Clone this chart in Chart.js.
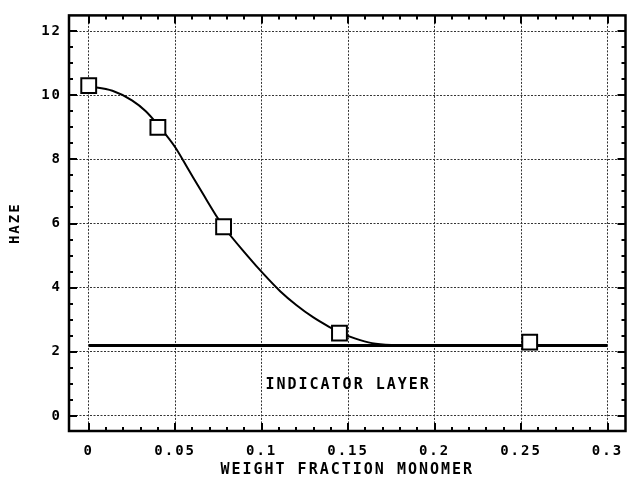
<!DOCTYPE html>
<html>
<head>
<meta charset="utf-8">
<script src="https://cdn.jsdelivr.net/npm/chart.js@4/dist/chart.umd.min.js"></script>
<style>
  html, body { margin: 0; padding: 0; background: #ffffff; }
  canvas { display: block; }
</style>
</head>
<body>
<canvas id="chart-haze" width="638" height="479"></canvas>
<script>
// ── Data ──
const markerX = [0, 0.04, 0.078, 0.145, 0.255];
const markerY = [10.3, 9.0, 5.9, 2.58, 2.3];

const curveX = [0, 0.0137, 0.025, 0.033, 0.0404, 0.05, 0.0575, 0.067, 0.0746, 0.078, 0.0917, 0.1012, 0.1107, 0.12, 0.1297, 0.139, 0.1454, 0.1543, 0.1638, 0.175, 0.185];
const curveY = [10.28, 10.14, 9.84, 9.5, 9.05, 8.38, 7.7, 6.84, 6.17, 5.9, 5.0, 4.42, 3.89, 3.46, 3.08, 2.78, 2.6, 2.41, 2.27, 2.21, 2.2];

const layerX = [0, 0.3];
const layerY = [2.2, 2.2];

const xTicks = [0, 0.05, 0.1, 0.15, 0.2, 0.25, 0.3];
const yTicks = [0, 2, 4, 6, 8, 10, 12];
const xMinorStep = 0.01;
const yMinorStep = 0.5;

const FONT = "'DejaVu Sans Mono', monospace";

const toPoints = (xs, ys) => xs.map((x, i) => ({ x, y: ys[i] }));

// frame, inner tick marks and the label inside the plot
const framePlugin = {
  id: "frame",
  beforeDraw(chart) {
    chart.ctx.letterSpacing = "2px";
  },
  afterDraw(chart) {
    const { ctx, chartArea: a, scales: { x, y } } = chart;
    ctx.save();
    ctx.strokeStyle = "#000";
    ctx.lineWidth = 2;
    ctx.beginPath();
    for (let v = 0; v <= 0.3001; v += xMinorStep) {
      const px = Math.round(x.getPixelForValue(v));
      const major = Math.abs(v / 0.05 - Math.round(v / 0.05)) < 1e-6;
      const len = major ? 8 : 4;
      ctx.moveTo(px, a.bottom); ctx.lineTo(px, a.bottom - len);
      ctx.moveTo(px, a.top); ctx.lineTo(px, a.top + len);
    }
    for (let v = 0; v <= 12.001; v += yMinorStep) {
      const py = Math.round(y.getPixelForValue(v));
      const major = Math.abs(v / 2 - Math.round(v / 2)) < 1e-6;
      const len = major ? 8 : 4;
      ctx.moveTo(a.left, py); ctx.lineTo(a.left + len, py);
      ctx.moveTo(a.right, py); ctx.lineTo(a.right - len, py);
    }
    ctx.stroke();

    ctx.lineWidth = 2.5;
    ctx.strokeRect(a.left, a.top, a.right - a.left, a.bottom - a.top);

    ctx.fillStyle = "#000";
    ctx.font = "bold 15px " + FONT;
    ctx.textAlign = "center";
    ctx.textBaseline = "middle";
    ctx.fillText("INDICATOR LAYER", x.getPixelForValue(0.15), y.getPixelForValue(0.96));
    ctx.restore();
  }
};

new Chart(document.getElementById("chart-haze").getContext("2d"), {
  type: "scatter",
  data: {
    datasets: [
      {
        label: "Measured",
        data: toPoints(markerX, markerY),
        pointStyle: "rect",
        pointRadius: 10.5,
        pointBorderWidth: 2,
        pointBackgroundColor: "#ffffff",
        pointBorderColor: "#000000",
        showLine: false
      },
      {
        label: "Fit",
        data: toPoints(curveX, curveY),
        showLine: true,
        borderColor: "#000000",
        borderWidth: 2,
        pointRadius: 0,
        cubicInterpolationMode: "monotone"
      },
      {
        label: "Indicator layer",
        data: toPoints(layerX, layerY),
        showLine: true,
        borderColor: "#000000",
        borderWidth: 3,
        pointRadius: 0
      }
    ]
  },
  options: {
    responsive: false,
    animation: false,
    layout: { padding: { top: 12, right: 4, left: 0, bottom: 0 } },
    plugins: { legend: { display: false }, tooltip: { enabled: false } },
    scales: {
      x: {
        type: "linear",
        min: -0.0114,
        max: 0.3104,
        afterBuildTicks: s => { s.ticks = xTicks.map(v => ({ value: v })); },
        afterFit: s => { s.height = 48; },
        grid: { color: "#333", lineWidth: 1, drawTicks: false },
        border: { display: false, dash: [2, 1.5] },
        ticks: {
          padding: 12,
          color: "#000",
          maxRotation: 0,
          font: { family: FONT, size: 14, weight: "bold" },
          callback: v => String(v)
        },
        title: {
          display: true,
          text: "WEIGHT FRACTION MONOMER",
          color: "#000",
          font: { family: FONT, size: 15, weight: "bold", lineHeight: 1.2 },
          padding: { top: 0, bottom: 0 }
        }
      },
      y: {
        type: "linear",
        min: -0.47,
        max: 12.49,
        afterBuildTicks: s => { s.ticks = yTicks.map(v => ({ value: v })); },
        afterFit: s => { s.width = 69; },
        grid: { color: "#333", lineWidth: 1, drawTicks: false },
        border: { display: false, dash: [2, 1.5] },
        ticks: {
          padding: 7,
          color: "#000",
          font: { family: FONT, size: 14, weight: "bold" }
        },
        title: {
          display: true,
          text: "HAZE",
          color: "#000",
          font: { family: FONT, size: 14, weight: "bold", lineHeight: 1.2 },
          padding: { top: 7, bottom: 0 }
        }
      }
    }
  },
  plugins: [framePlugin]
});
</script>
</body>
</html>
